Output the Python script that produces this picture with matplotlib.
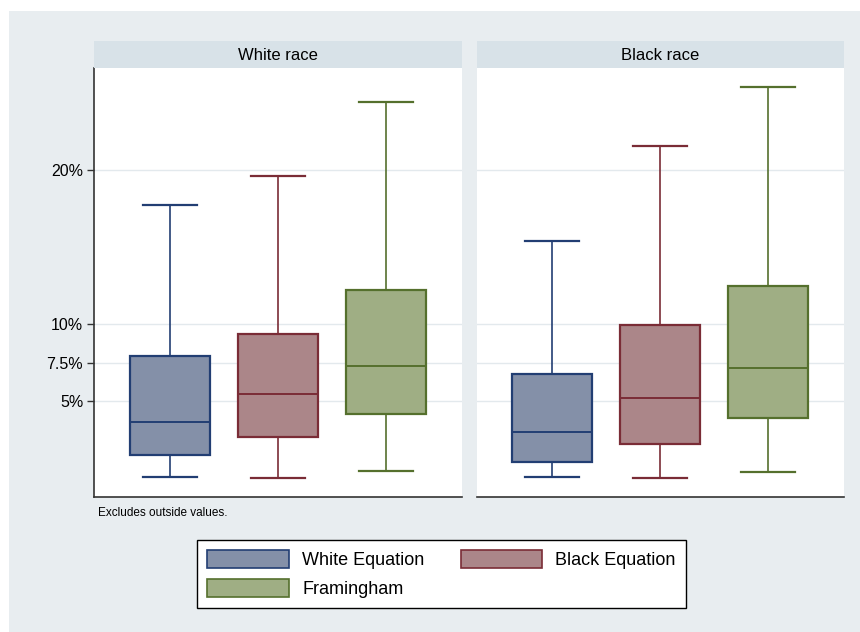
import matplotlib
matplotlib.use("Agg")
import matplotlib.pyplot as plt
from matplotlib.patches import Patch, Rectangle

plt.rcParams['font.family'] = ['Liberation Sans', 'DejaVu Sans']

# Data (risk in %)
groups = ["White Equation", "Black Equation", "Framingham"]
panels = ["White race", "Black race"]

white_whislo = [0.07, 0.01, 0.48]
white_q1 = [1.49, 2.66, 4.18]
white_med = [3.65, 5.50, 7.29]
white_q3 = [7.91, 9.35, 12.18]
white_whishi = [17.72, 19.61, 24.38]

black_whislo = [0.07, 0.01, 0.41]
black_q1 = [1.08, 2.24, 3.92]
black_med = [2.98, 5.24, 7.16]
black_q3 = [6.77, 9.96, 12.44]
black_whishi = [15.41, 21.55, 25.35]

ytick_vals = [5, 7.5, 10, 20]
ytick_labels = ["5%", "7.5%", "10%", "20%"]

# Styles
fill_colors = ["#8490a8", "#ab8689", "#9fae84"]
edge_colors = ["#223e73", "#7a2c36", "#55702d"]
bg = "#e8edf0"
strip_color = "#d8e2e8"


def make_stats(lo, q1, med, q3, hi):
    stats = []
    for i in range(len(lo)):
        stats.append({"whislo": lo[i], "q1": q1[i], "med": med[i],
                      "q3": q3[i], "whishi": hi[i], "fliers": []})
    return stats


panel_stats = [
    make_stats(white_whislo, white_q1, white_med, white_q3, white_whishi),
    make_stats(black_whislo, black_q1, black_med, black_q3, black_whishi),
]

fig = plt.figure(figsize=(8.6, 6.32), dpi=100)
fig.patch.set_facecolor(bg)
fig.patch.set_edgecolor(bg)
fig.patch.set_linewidth(0)

# background layer: thin white margin at top and left, like the screenshot
bg_ax = fig.add_axes([0, 0, 1, 1], zorder=-10)
bg_ax.set_xlim(0, 860)
bg_ax.set_ylim(632, 0)
bg_ax.axis("off")
bg_ax.add_patch(Rectangle((-5, -5), 880, 16, facecolor="white", edgecolor="none"))
bg_ax.add_patch(Rectangle((-5, -5), 14, 650, facecolor="white", edgecolor="none"))

ax_left = [94.3 / 860, 476.7 / 860]
ax_w = 367.4 / 860
ax_b = 1 - 497 / 632
ax_h = (497 - 67.7) / 632
strip_h = 26.7 / 632

for p in range(2):
    ax = fig.add_axes([ax_left[p], ax_b, ax_w, ax_h])
    ax.set_facecolor("white")
    stats = panel_stats[p]
    for i in range(3):
        ax.bxp([stats[i]], positions=[i + 1], widths=0.74, patch_artist=True,
               showfliers=False,
               boxprops=dict(facecolor=fill_colors[i], edgecolor=edge_colors[i], linewidth=1.6),
               medianprops=dict(color=edge_colors[i], linewidth=1.4),
               whiskerprops=dict(color=edge_colors[i], linewidth=1.2),
               capprops=dict(color=edge_colors[i], linewidth=1.6),
               capwidths=0.5)
    ax.set_xlim(0.3, 3.7)
    ax.set_ylim(-1.2, 26.6)
    ax.set_xticks([])
    ax.set_yticks(ytick_vals)
    ax.grid(axis="y", color="#e3e9ed", linewidth=1.0)
    ax.set_axisbelow(True)
    for s in ["top", "right"]:
        ax.spines[s].set_visible(False)
    ax.spines["bottom"].set_color("#333333")
    ax.spines["bottom"].set_linewidth(1.2)
    if p == 0:
        ax.set_yticklabels(ytick_labels, fontsize=11.5)
        ax.spines["left"].set_color("#333333")
        ax.spines["left"].set_linewidth(1.2)
        ax.tick_params(axis="y", length=5, width=1, color="#333333", pad=3)
    else:
        ax.spines["left"].set_visible(False)
        ax.tick_params(axis="y", length=0, labelleft=False)

    sax = fig.add_axes([ax_left[p], ax_b + ax_h, ax_w, strip_h])
    sax.set_facecolor(strip_color)
    sax.set_xticks([])
    sax.set_yticks([])
    for s in sax.spines.values():
        s.set_visible(False)
    sax.text(0.5, 0.47, panels[p], ha="center", va="center", fontsize=12,
             transform=sax.transAxes)

fig.text(98 / 860, 1 - 513 / 632, "Excludes outside values.", fontsize=8.5,
         ha="left", va="center")

handles = [Patch(facecolor=fill_colors[i], edgecolor=edge_colors[i], linewidth=1.2)
           for i in range(3)]
order = [0, 2, 1]
leg = fig.legend([handles[i] for i in order], [groups[i] for i in order],
                 ncol=2, loc="center", bbox_to_anchor=(0.5134, 0.0913),
                 fontsize=13, frameon=True, fancybox=False, edgecolor="black",
                 facecolor="white", framealpha=1.0,
                 handlelength=4.5, handleheight=1.17, handletextpad=0.75,
                 columnspacing=2.0, labelspacing=0.55, borderpad=0.55)
leg.get_frame().set_linewidth(1.0)

fig.savefig("out.png", dpi=100, facecolor=bg)
